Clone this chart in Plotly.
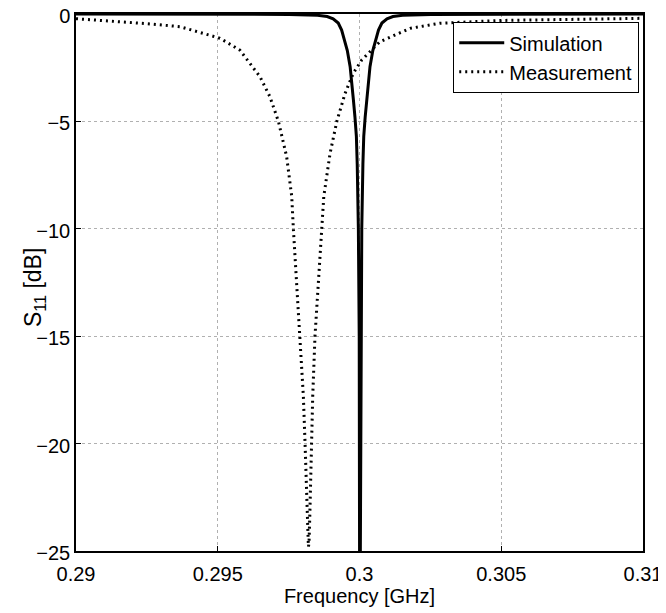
import plotly.graph_objects as go

# Simulation S11 (dB)
sim_freq = [0.2900, 0.29502, 0.29752, 0.29852, 0.29886, 0.29907, 0.29925, 0.29937, 0.29949,
            0.29957, 0.29967, 0.29972, 0.299785, 0.29984, 0.29989, 0.29992, 0.29996, 0.29999,
            0.30001, 0.30002, 0.30003, 0.30005, 0.30008, 0.30012, 0.30015, 0.30020, 0.300255,
            0.30032, 0.30037, 0.30047, 0.30055, 0.30067, 0.30079, 0.30097, 0.30118, 0.30152,
            0.30252, 0.30502, 0.3100]
sim_db = [0.0, -0.005, -0.02, -0.06, -0.12, -0.22, -0.42, -0.75, -1.3,
          -1.7, -2.45, -3.0, -4.0, -4.8, -5.7, -7.0, -10.0, -15.0,
          -25.0, -40.0, -25.0, -15.0, -10.0, -7.0, -5.7, -4.8, -4.0,
          -3.0, -2.45, -1.7, -1.3, -0.75, -0.42, -0.22, -0.12, -0.06,
          -0.02, -0.005, 0.0]

# Measurement S11 (dB)
meas_freq = [0.2900, 0.2915, 0.2925, 0.29367, 0.29508, 0.29578, 0.29649, 0.29684, 0.29714,
             0.29743, 0.29761, 0.29767, 0.29778, 0.29790, 0.29802, 0.29808, 0.29814, 0.29819,
             0.29820, 0.29822, 0.29825, 0.29831, 0.29835, 0.29843, 0.29855, 0.29866, 0.29874,
             0.29896, 0.29920, 0.29949, 0.29967, 0.29978, 0.30008, 0.30072, 0.30178,
             0.30284, 0.3050, 0.3100]
meas_db = [-0.22, -0.35, -0.45, -0.59, -1.13, -1.68, -2.92, -3.85, -5.0,
           -6.64, -8.5, -10.06, -12.4, -15.0, -17.8, -20.0, -23.2, -24.5,
           -24.8, -24.6, -23.2, -20.0, -17.8, -15.0, -12.4, -10.06, -8.5,
           -6.5, -5.0, -3.7, -3.07, -2.76, -2.14, -1.29, -0.67,
           -0.43, -0.3, -0.2]

x_ticks = [0.29, 0.295, 0.3, 0.305, 0.31]
x_tick_labels = ["0.29", "0.295", "0.3", "0.305", "0.31"]
y_ticks = [0, -5, -10, -15, -20, -25]
y_tick_labels = ["0", "\u22125", "\u221210", "\u221215", "\u221220", "\u221225"]

fig = go.Figure()
fig.add_trace(go.Scatter(x=sim_freq, y=sim_db, mode="lines", name="Simulation",
                         line=dict(color="black", width=3)))
fig.add_trace(go.Scatter(x=meas_freq, y=meas_db, mode="lines", name="Measurement",
                         line=dict(color="black", width=3, dash="2px,4px")))

font = dict(family="Liberation Sans, Arial, sans-serif", size=20, color="black")

fig.update_layout(
    width=666, height=613, autosize=False,
    margin=dict(l=68, r=31, t=6, b=70, pad=0, autoexpand=False),
    paper_bgcolor="white", plot_bgcolor="white",
    font=font,
    showlegend=True,
    legend=dict(x=0.993, y=0.985, xanchor="right", yanchor="top",
                bgcolor="white", bordercolor="black", borderwidth=1.2,
                font=dict(family="Liberation Sans, Arial, sans-serif", size=20, color="black"),
                tracegroupgap=0, itemwidth=45),
    xaxis=dict(range=[0.29, 0.31], tickvals=x_ticks, ticktext=x_tick_labels,
               showline=True, linecolor="black", linewidth=1.5, mirror=True,
               ticks="inside", ticklen=5, tickcolor="black", automargin=False,
               ticklabeloverflow="allow", ticklabelstandoff=4,
               showgrid=True, gridcolor="#b0b0b0", gridwidth=1, griddash="dot",
               zeroline=False,
               title=dict(text="Frequency [GHz]", standoff=4, font=font)),
    yaxis=dict(range=[-25, 0], tickvals=y_ticks, ticktext=y_tick_labels,
               showline=True, linecolor="black", linewidth=1.5, mirror=True,
               ticks="inside", ticklen=5, tickcolor="black", automargin=False,
               ticklabeloverflow="allow", ticklabelshift=2,
               showgrid=True, gridcolor="#b0b0b0", gridwidth=1, griddash="dot",
               zeroline=False),
    annotations=[dict(text="S<sub>11</sub> [dB]", textangle=-90, showarrow=False,
                      xref="paper", yref="paper", x=-0.072, y=0.49,
                      xanchor="center", yanchor="middle",
                      font=dict(family="Liberation Sans, Arial, sans-serif", size=23, color="black"))],
)

fig.write_html("out.html")
